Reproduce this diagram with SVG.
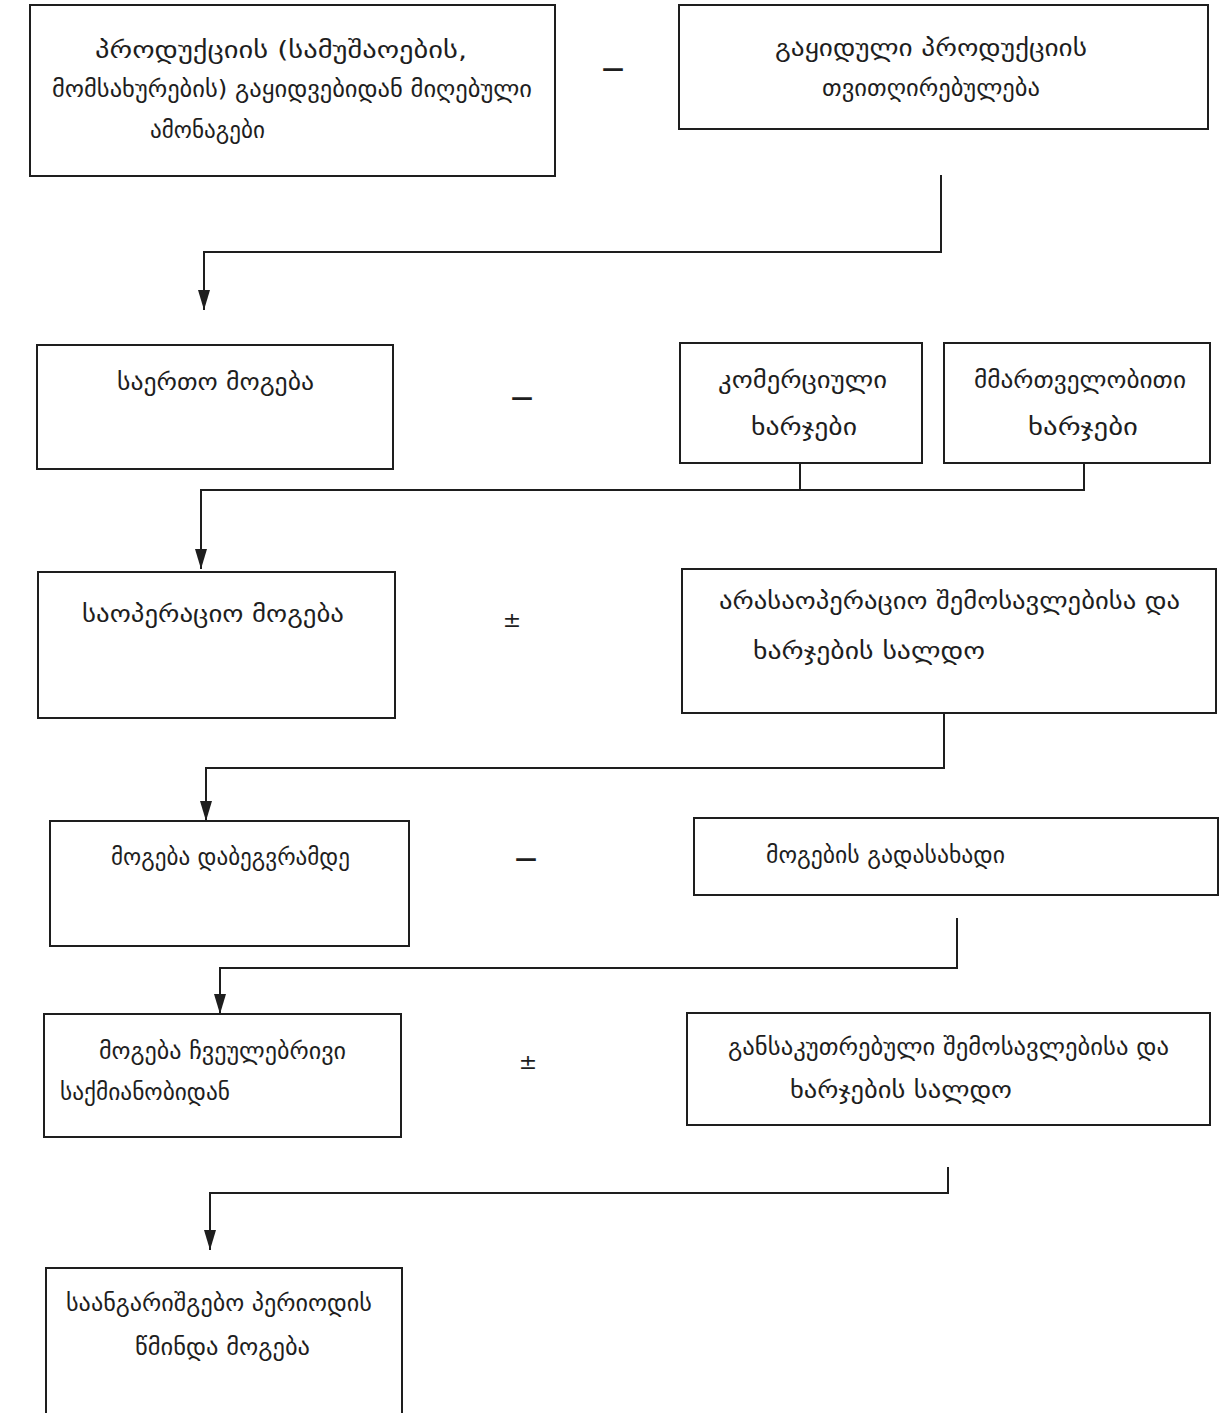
<svg xmlns="http://www.w3.org/2000/svg" width="1232" height="1413" viewBox="0 0 1232 1413">
<style>
.box{fill:none;stroke:#1e1e1e;stroke-width:2}
.t{font-family:"DejaVu Sans",sans-serif;font-size:23px;fill:#1e1e1e}
.op{font-family:"DejaVu Sans",sans-serif;font-size:22px;fill:#1e1e1e;text-anchor:middle}
.mn{font-weight:bold}
.c{fill:none;stroke:#1e1e1e;stroke-width:2}
</style>
<defs>
<marker id="ah" viewBox="0 0 20 12" refX="20" refY="6" markerWidth="20" markerHeight="12" markerUnits="userSpaceOnUse" orient="auto">
<path d="M0,0 L20,6 L0,12 Z" fill="#1e1e1e"/>
</marker>
</defs>
<rect width="1232" height="1413" fill="#ffffff"/>

<g id="n1"><rect class="box" x="30" y="5" width="525" height="171"/>
<text class="t" x="95" y="58" textLength="372" lengthAdjust="spacingAndGlyphs">პროდუქციის   (სამუშაოების,</text>
<text class="t" x="52" y="97" textLength="480" lengthAdjust="spacingAndGlyphs">მომსახურების) გაყიდვებიდან მიღებული</text>
<text class="t" x="150" y="138" textLength="115" lengthAdjust="spacingAndGlyphs">ამონაგები</text></g>
<g id="n2"><rect class="box" x="679" y="5" width="529" height="124"/>
<text class="t" x="775" y="56" textLength="312" lengthAdjust="spacingAndGlyphs">გაყიდული პროდუქციის</text>
<text class="t" x="822" y="96" textLength="218" lengthAdjust="spacingAndGlyphs">თვითღირებულება</text></g>

<g id="n3"><rect class="box" x="37" y="345" width="356" height="124"/>
<text class="t" x="117" y="390" textLength="197" lengthAdjust="spacingAndGlyphs">საერთო მოგება</text></g>
<g id="n4"><rect class="box" x="680" y="343" width="242" height="120"/>
<text class="t" x="718" y="388" textLength="169" lengthAdjust="spacingAndGlyphs">კომერციული</text>
<text class="t" x="751" y="435" textLength="106" lengthAdjust="spacingAndGlyphs">ხარჯები</text></g>
<g id="n5"><rect class="box" x="944" y="343" width="266" height="120"/>
<text class="t" x="974" y="388" textLength="212" lengthAdjust="spacingAndGlyphs">მმართველობითი</text>
<text class="t" x="1028" y="435" textLength="110" lengthAdjust="spacingAndGlyphs">ხარჯები</text></g>

<g id="n6"><rect class="box" x="38" y="572" width="357" height="146"/>
<text class="t" x="82" y="622" textLength="262" lengthAdjust="spacingAndGlyphs">საოპერაციო მოგება</text></g>
<g id="n7"><rect class="box" x="682" y="569" width="534" height="144"/>
<text class="t" x="719" y="609" textLength="461" lengthAdjust="spacingAndGlyphs">არასაოპერაციო შემოსავლებისა და</text>
<text class="t" x="753" y="659" textLength="232" lengthAdjust="spacingAndGlyphs">ხარჯების სალდო</text></g>

<g id="n8"><rect class="box" x="50" y="821" width="359" height="125"/>
<text class="t" x="111" y="865" textLength="239" lengthAdjust="spacingAndGlyphs">მოგება დაბეგვრამდე</text></g>
<g id="n9"><rect class="box" x="694" y="818" width="524" height="77"/>
<text class="t" x="766" y="863" textLength="239" lengthAdjust="spacingAndGlyphs">მოგების გადასახადი</text></g>

<g id="n10"><rect class="box" x="44" y="1014" width="357" height="123"/>
<text class="t" x="99" y="1059" textLength="247" lengthAdjust="spacingAndGlyphs">მოგება ჩვეულებრივი</text>
<text class="t" x="60" y="1100" textLength="170" lengthAdjust="spacingAndGlyphs">საქმიანობიდან</text></g>
<g id="n11"><rect class="box" x="687" y="1013" width="523" height="112"/>
<text class="t" x="728" y="1055" textLength="441" lengthAdjust="spacingAndGlyphs">განსაკუთრებული შემოსავლებისა და</text>
<text class="t" x="790" y="1098" textLength="222" lengthAdjust="spacingAndGlyphs">ხარჯების სალდო</text></g>

<g id="n12"><rect class="box" x="46" y="1268" width="356" height="160"/>
<text class="t" x="66" y="1311" textLength="306" lengthAdjust="spacingAndGlyphs">საანგარიშგებო პერიოდის</text>
<text class="t" x="135" y="1355" textLength="175" lengthAdjust="spacingAndGlyphs">წმინდა მოგება</text></g>

<g id="ops">
<text class="op mn" x="613" y="76">—</text>
<text class="op mn" x="522" y="405">—</text>
<text class="op" x="512" y="627">±</text>
<text class="op mn" x="526" y="866">—</text>
<text class="op" x="528" y="1069">±</text>
</g>

<g id="connectors">
<path class="c" d="M941,175 V252 H204 V310" marker-end="url(#ah)"/>
<path class="c" d="M800,463 V490"/>
<path class="c" d="M1084,463 V490 H201 V569" marker-end="url(#ah)"/>
<path class="c" d="M944,713 V768 H206 V821" marker-end="url(#ah)"/>
<path class="c" d="M957,918 V968 H220 V1014" marker-end="url(#ah)"/>
<path class="c" d="M948,1167 V1193 H210 V1250" marker-end="url(#ah)"/>
</g>
</svg>
